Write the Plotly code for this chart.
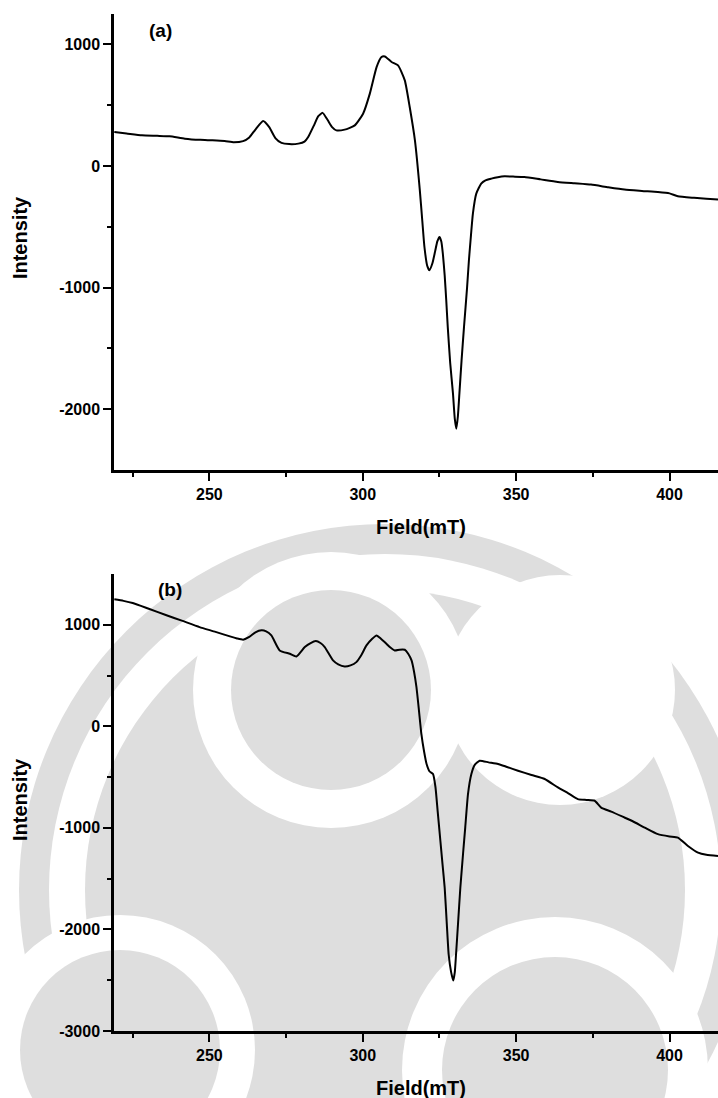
import plotly.graph_objects as go

# EPR spectra: magnetic field (mT) vs. signal intensity, two samples
field_a = [219.0, 223, 228, 233, 237, 242, 247, 251, 255, 258, 261, 263, 265, 267.5,
           269.5, 271.5, 273.5, 276, 279, 281, 282.2, 284, 285.5, 286.9, 288.5, 290,
           291.4, 294.1, 297.4, 300.1, 302.3, 304.5, 306.1, 307.2, 309.4, 311.5, 313.7,
           315.3, 317.0, 318.6, 319.4, 320.1, 321.0, 321.7, 322.7, 323.6, 324.3, 325.0,
           325.6, 326.1, 326.7, 327.2, 327.7, 328.5, 329.4, 330.0, 330.5, 331.0, 331.5,
           332.2, 333.0, 334.0, 334.6, 335.3, 335.9, 337.0, 338.6, 340.0, 341.9, 344.0,
           346.2, 349.0, 352.7, 358.0, 363.6, 369.0, 374.4, 380.0, 385.3, 391.0, 396.2,
           400.0, 402.7, 408.0, 412.0, 415.8]
intensity_a = [280, 268, 252, 248, 244, 225, 215, 211, 205, 195, 205, 235, 300, 370,
               320, 230, 190, 180, 184, 200, 238, 330, 410, 437, 380, 320,
               293, 299, 334, 430, 595, 813, 896, 901, 855, 827, 704,
               485, 211, -200, -450, -666, -820, -857, -800, -700, -620, -583,
               -620, -720, -900, -1100, -1323, -1620, -1870, -2080, -2160, -2060, -1870,
               -1600, -1323, -1000, -775, -560, -391, -227, -145, -118, -104, -92,
               -85, -87, -90, -110, -131, -142, -153, -175, -194, -205, -214,
               -225, -249, -262, -270, -276]

field_b = [219.0, 222, 225, 230, 236, 241, 246.8, 252, 256.7, 259, 261, 263, 265, 267,
           268.5, 270.2, 272.9, 276.2, 278.4, 281.1, 283, 284.7, 286.2, 287.6, 290.3,
           292, 294.1, 296, 297.9, 299.5, 301.2, 303, 304.5, 306, 307.7, 309, 310.4,
           312, 313.7, 314.8, 315.9, 316.7, 317.5, 318.3, 319.1, 320.0, 320.8, 321.8,
           322.9, 323.7, 324.4, 325.3, 326.0, 326.7, 327.4, 328.0, 328.8, 329.5, 330.0,
           330.4, 331.1, 331.8, 332.7, 333.4, 334.3, 335.4, 336.5, 338.1, 341.0, 344.1,
           347.0, 350.6, 355.0, 359.3, 363.6, 367.0, 370.1, 373.0, 375.6, 377.7, 381.0,
           385.3, 388.0, 391.9, 396.2, 400.0, 402.7, 406.0, 409.3, 412.0, 415.8]
intensity_b = [1250, 1235, 1214, 1160, 1093, 1040, 977, 930, 885, 865, 853, 880, 925, 945,
               935, 895, 747, 714, 688, 780, 820, 839, 820, 780, 649,
               610, 589, 600, 632, 700, 797, 860, 895, 860, 813, 775, 747,
               755, 754, 715, 649, 540, 385, 160, -75, -250, -371, -445,
               -470, -600, -832, -1129, -1360, -1589, -1950, -2247, -2420, -2503, -2420,
               -2247, -1920, -1589, -1250, -997, -667, -470, -380, -339, -355, -371,
               -400, -437, -480, -519, -602, -660, -717, -725, -733, -800, -840,
               -898, -935, -997, -1062, -1085, -1096, -1178, -1244, -1265, -1276]

x_ticks = [250, 300, 350, 400]
x_minor = [225, 275, 325, 375]
y_ticks_a = [-2000, -1000, 0, 1000]
y_minor_a = [-1500, -500, 500]
y_ticks_b = [-3000, -2000, -1000, 0, 1000]
y_minor_b = [-2500, -1500, -500, 500]
x_range = [218.9, 415.8]
y_range_a = [-2500, 1250]
y_range_b = [-3000, 1500]

FONT = "Liberation Sans, Arial, sans-serif"
W, H = 718, 1098
M = dict(l=114, r=0, t=14, b=67)
PW, PH = W - M["l"] - M["r"], H - M["t"] - M["b"]

# background emblem: (centre x px, centre y px, radius px, fill), painted in order
GREY, WHITE = "#dedede", "#ffffff"
emblem = [
    (385, 890, 366, GREY), (385, 890, 336, WHITE),   # outer ring
    (385, 890, 300, GREY),                            # body
    (560, 690, 115, WHITE),
    (331, 690, 138, WHITE), (331, 690, 100, GREY),    # upper disc
    (120, 1050, 135, WHITE), (120, 1050, 100, GREY),  # lower-left disc
    (555, 1070, 153, WHITE), (555, 1070, 113, GREY),  # lower-right disc
]


def px_to_paper(x, y):
    return (x - M["l"]) / PW, (H - M["b"] - y) / PH


shapes = []
for cx, cy, r, col in emblem:
    x0, y1 = px_to_paper(cx - r, cy - r)
    x1, y0 = px_to_paper(cx + r, cy + r)
    shapes.append(dict(type="circle", xref="paper", yref="paper",
                       x0=x0, x1=x1, y0=y0, y1=y1, fillcolor=col,
                       line=dict(width=0), layer="below"))

fig = go.Figure()
fig.add_trace(go.Scatter(x=field_a, y=intensity_a, mode="lines",
                         line=dict(color="black", width=2, shape="spline", smoothing=0.5),
                         xaxis="x", yaxis="y", showlegend=False))
fig.add_trace(go.Scatter(x=field_b, y=intensity_b, mode="lines",
                         line=dict(color="black", width=2, shape="spline", smoothing=0.5),
                         xaxis="x2", yaxis="y2", showlegend=False))

tick_font = dict(family=FONT, size=16, color="black", weight="bold")


def x_axis(anchor):
    return dict(
        range=x_range, anchor=anchor, domain=[0, 1],
        tickmode="array", tickvals=x_ticks, ticktext=[str(v) for v in x_ticks],
        ticks="outside", ticklen=8, tickwidth=2, tickcolor="black",
        minor=dict(ticks="outside", ticklen=4, tickwidth=2, tickcolor="black",
                   tickvals=x_minor),
        showline=True, linewidth=2.5, linecolor="black",
        showgrid=False, zeroline=False, tickfont=tick_font,
    )


def y_axis(anchor, rng, ticks, minors, domain):
    return dict(
        range=rng, anchor=anchor, domain=domain,
        tickmode="array", tickvals=ticks, ticktext=[str(v) for v in ticks],
        ticks="outside", ticklen=8, tickwidth=2, tickcolor="black",
        minor=dict(ticks="outside", ticklen=4, tickwidth=2, tickcolor="black",
                   tickvals=minors),
        showline=True, linewidth=2.5, linecolor="black",
        showgrid=False, zeroline=False, tickfont=tick_font,
    )


fig.update_layout(
    width=W, height=H, margin=M,
    paper_bgcolor="white", plot_bgcolor="rgba(0,0,0,0)",
    xaxis=x_axis("y"),
    yaxis=y_axis("x", y_range_a, y_ticks_a, y_minor_a, [0.5516, 1]),
    xaxis2=x_axis("y2"),
    yaxis2=y_axis("x2", y_range_b, y_ticks_b, y_minor_b, [0, 0.4494]),
    shapes=shapes,
)

title_font = dict(family=FONT, size=20, color="black", weight="bold")
label_font = dict(family=FONT, size=19, color="black", weight="bold")

annotations = [
    dict(text="Intensity", x=-0.1556, y=0.7797, textangle=-90, font=title_font),
    dict(text="Intensity", x=-0.1556, y=0.2271, textangle=-90, font=title_font),
    dict(text="Field(mT)", x=0.5075, y=0.4951, font=title_font),
    dict(text="Field(mT)", x=0.5075, y=-0.056, font=title_font),
]
for a in annotations:
    a.update(xref="paper", yref="paper", showarrow=False,
             xanchor="center", yanchor="middle")

annotations += [
    dict(text="(a)", x=234, y=1117, xref="x", yref="y", showarrow=False, font=label_font),
    dict(text="(b)", x=237, y=1348, xref="x2", yref="y2", showarrow=False, font=label_font),
]
fig.update_layout(annotations=annotations)

fig.write_html("out.html")
